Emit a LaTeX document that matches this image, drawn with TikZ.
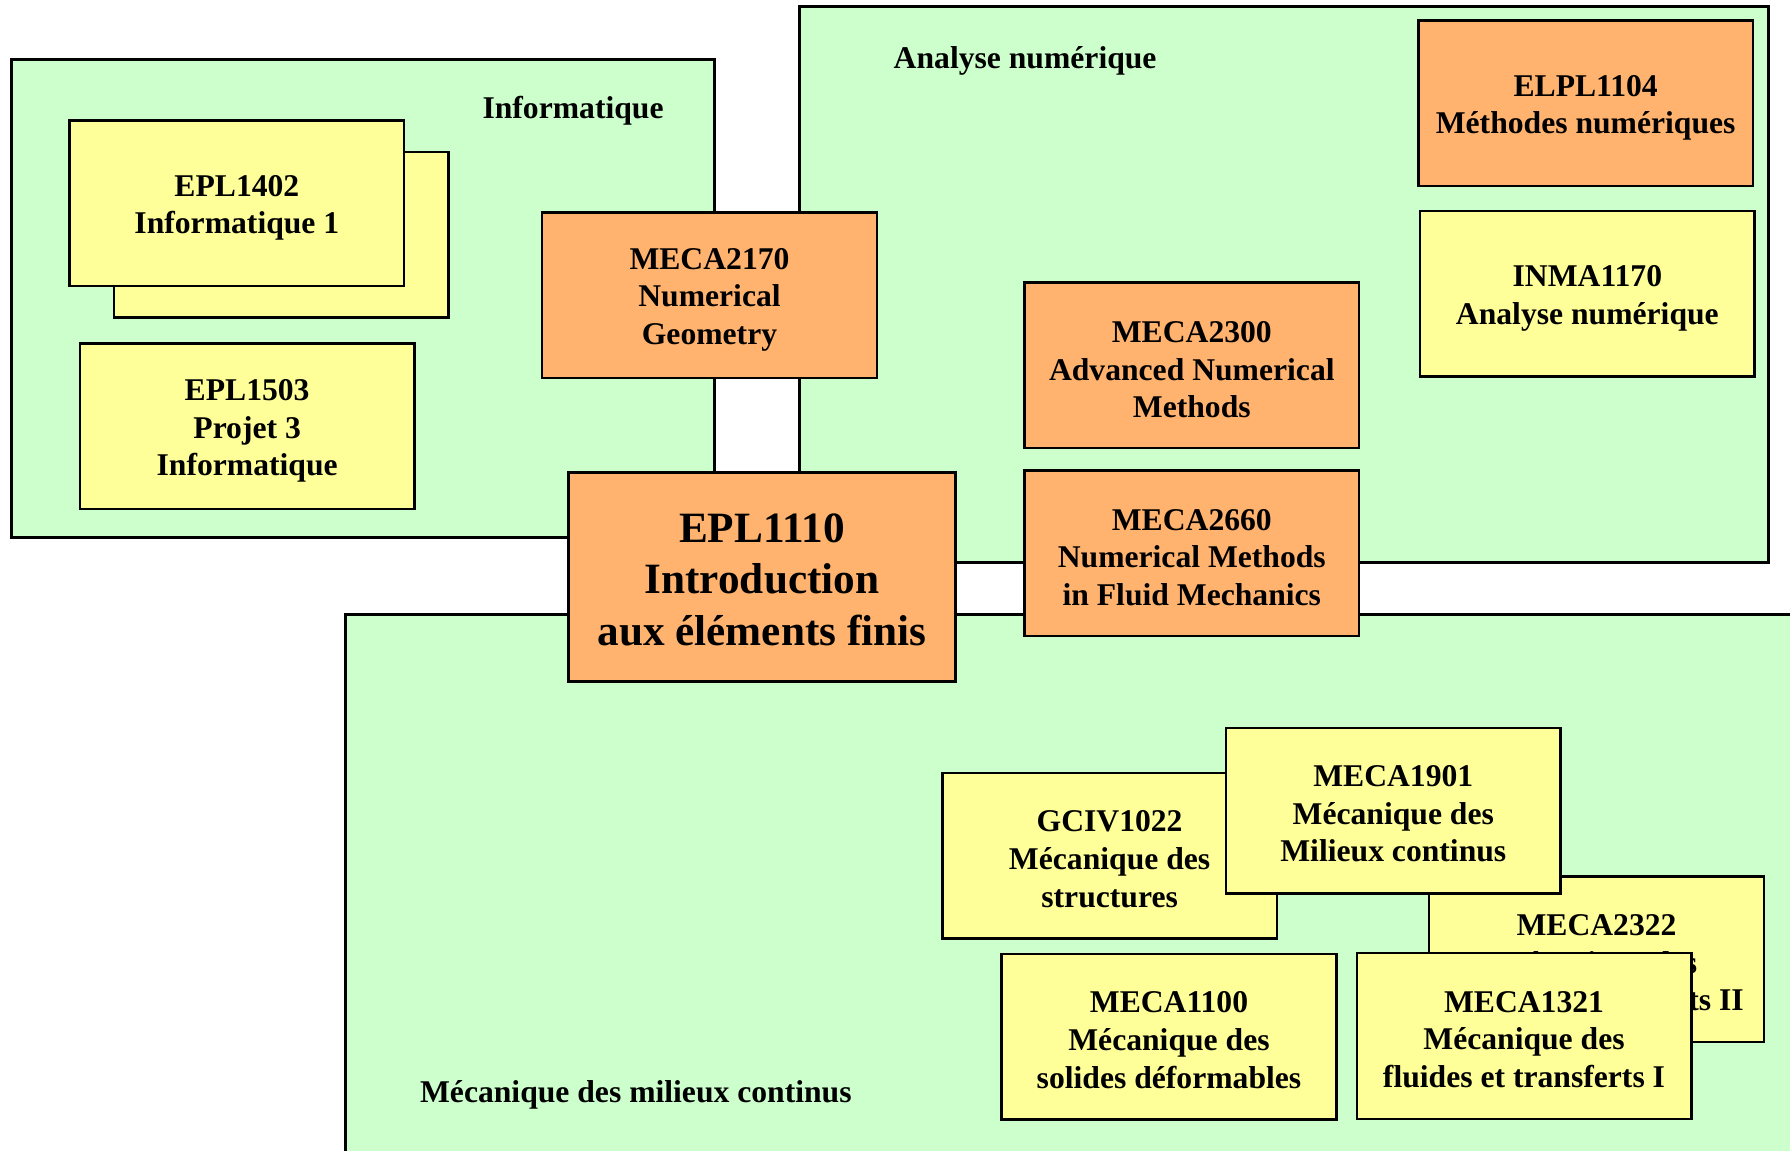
\documentclass[tikz,border=0pt]{standalone}
\usepackage{fontspec}
\setmainfont{Liberation Serif}
\definecolor{grpgreen}{HTML}{CCFFCC}
\definecolor{cyellow}{HTML}{FFFF99}
\definecolor{corange}{HTML}{FFB36F}
\tikzset{
  grp/.style={draw=black, fill=grpgreen, line width=0.9pt},
  course/.style={draw=black, line width=0.7pt, inner sep=0pt,
    minimum width=3.345cm, minimum height=1.655cm},
  ycourse/.style={course, fill=cyellow},
  ocourse/.style={course, fill=corange},
  ctext/.style={inner sep=0pt, align=center, font=\fontsize{9}{10.7}\selectfont\bfseries},
  bigtext/.style={inner sep=0pt, align=center, font=\fontsize{12.3}{14.6}\selectfont\bfseries},
  grplabel/.style={inner sep=0pt, font=\fontsize{9}{10.7}\selectfont\bfseries},
}
\begin{document}
\begin{tikzpicture}[x=0.011416cm, y=-0.011416cm]
\clip (0,0) rectangle (1568,1008);
\fill[white] (0,0) rectangle (1568,1008);
% groups
\draw[grp] (10,52) rectangle (626,471);
\draw[grp] (700,6) rectangle (1549,493);
\draw[grp] (303,538) rectangle (1620,1060);
\node[grplabel] (linfo) at (502,97) {Informatique};
\node[grplabel] (lana) at (898,53) {Analyse numérique};
\node[grplabel] (lmeca) at (557,959) {Mécanique des milieux continus};
% Informatique
\node[ycourse] (epl1402b) at (246.5,205.5) {};
\node[ycourse] (epl1402) at (207.5,178) {};
\node[ctext] (epl1402t) at ([yshift=-1.3pt]epl1402.center) {EPL1402\\Informatique 1};
\node[ycourse] (epl1503) at (216.5,373.5) {};
\node[ctext] (epl1503t) at ([yshift=-1.3pt]epl1503.center) {EPL1503\\Projet 3\\Informatique};
\node[ocourse] (meca2170) at (621.5,258.5) {};
\node[ctext] (meca2170t) at ([yshift=-1.3pt]meca2170.center) {MECA2170\\Numerical\\Geometry};
% Analyse
\node[ocourse] (elpl1104) at (1389,90.5) {};
\node[ctext] (elpl1104t) at ([yshift=-1.3pt]elpl1104.center) {ELPL1104\\Méthodes numériques};
\node[ycourse] (inma1170) at (1390.5,257.5) {};
\node[ctext] (inma1170t) at ([yshift=-1.3pt]inma1170.center) {INMA1170\\Analyse numérique};
\node[ocourse] (meca2300) at (1044,320) {};
\node[ctext] (meca2300t) at ([yshift=-1.3pt]meca2300.center) {MECA2300\\Advanced Numerical\\Methods};
\node[ocourse] (meca2660) at (1044,484.5) {};
\node[ctext] (meca2660t) at ([yshift=-1.3pt]meca2660.center) {MECA2660\\Numerical Methods\\in Fluid Mechanics};
% Centre
\node[ocourse, minimum width=3.870cm, minimum height=2.089cm] (epl1110) at (667.5,505.5) {};
\node[bigtext] (epl1110t) at ([yshift=-0.8pt]epl1110.center) {EPL1110\\Introduction\\aux éléments finis};
% Mecanique
\node[ycourse] (gciv1022) at (972,749.5) {};
\node[ctext] (gciv1022t) at ([yshift=-1.0pt]gciv1022.center) {GCIV1022\\Mécanique des\\structures};
\node[ycourse] (meca2322) at (1398.5,840.5) {};
\node[ctext] (meca2322t) at ([yshift=-1.0pt]meca2322.center) {MECA2322\\Mécanique des\\fluides et transferts II};
\node[ycourse] (meca1901) at (1220.5,710) {};
\node[ctext] (meca1901t) at ([yshift=-1.0pt]meca1901.center) {MECA1901\\Mécanique des\\Milieux continus};
\node[ycourse] (meca1100) at (1024,908) {};
\node[ctext] (meca1100t) at ([yshift=-1.0pt]meca1100.center) {MECA1100\\Mécanique des\\solides déformables};
\node[ycourse] (meca1321) at (1335,907.5) {};
\node[ctext] (meca1321t) at ([yshift=-1.0pt]meca1321.center) {MECA1321\\Mécanique des\\fluides et transferts I};
\end{tikzpicture}
\end{document}
